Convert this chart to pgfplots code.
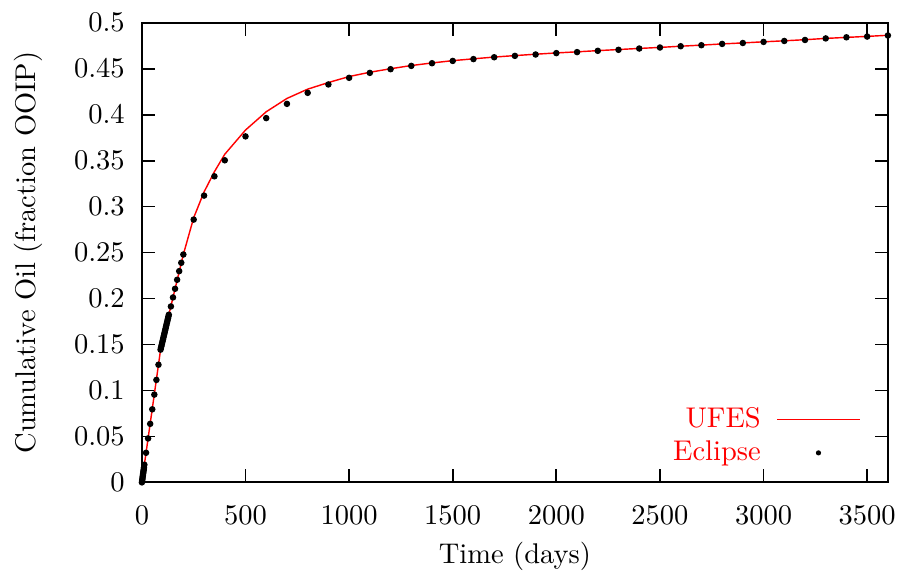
\documentclass[border=0pt]{standalone}
\usepackage{pgfplots}
\pgfplotsset{compat=1.18}

% UFES simulator curve
\pgfplotstableread{
t f
0 0.0
10 0.0165
20 0.0322
50 0.0800
80 0.1280
90 0.1444
130 0.1824
200 0.2479
250 0.2880
300 0.3160
350 0.3380
400 0.3570
500 0.3833
600 0.4032
700 0.4177
800 0.4278
900 0.4350
1000 0.4415
1100 0.4462
1200 0.4500
1300 0.4535
1400 0.4563
1500 0.4588
1600 0.4608
1700 0.4627
1800 0.4643
1900 0.4658
2000 0.4672
2100 0.4684
2200 0.4697
2300 0.4709
2400 0.4721
2500 0.4732
2600 0.4745
2700 0.4757
2800 0.4770
2900 0.4781
3000 0.4793
3100 0.4804
3200 0.4816
3300 0.4830
3400 0.4841
3500 0.4852
3600 0.4864
}\ufes

% Eclipse reference points
\pgfplotstableread{
t f
0 0.0
1 0.0016
2 0.0032
3 0.0048
4 0.0064
5 0.0080
6 0.0096
7 0.0112
8 0.0128
9 0.0144
10 0.0160
12 0.0192
20 0.0322
30 0.0478
40 0.0637
50 0.0795
60 0.0955
70 0.1115
80 0.1280
90 0.1444
92 0.1463
94 0.1482
96 0.1501
98 0.1520
100 0.1539
102 0.1558
104 0.1577
106 0.1596
108 0.1615
110 0.1634
112 0.1653
114 0.1672
116 0.1691
118 0.1710
120 0.1729
122 0.1748
124 0.1767
126 0.1786
128 0.1805
130 0.1824
140 0.1914
150 0.2012
160 0.2106
170 0.2204
180 0.2298
190 0.2389
200 0.2479
250 0.2859
300 0.3120
350 0.3330
400 0.3504
500 0.3764
600 0.3963
700 0.4118
800 0.4238
900 0.4329
1000 0.4401
1100 0.4455
1200 0.4495
1300 0.4531
1400 0.4560
1500 0.4585
1600 0.4605
1700 0.4625
1800 0.4640
1900 0.4655
2000 0.4670
2100 0.4681
2200 0.4695
2300 0.4706
2400 0.4720
2500 0.4731
2600 0.4745
2700 0.4756
2800 0.4770
2900 0.4780
3000 0.4792
3100 0.4802
3200 0.4813
3300 0.4830
3400 0.4842
3500 0.4850
3600 0.4862
}\eclipse

\begin{document}
\begin{tikzpicture}
\begin{axis}[
  scale only axis,
  width=261.8pt, height=161.3pt,
  xmin=0, xmax=3600,
  ymin=0, ymax=0.5,
  xtick={0,500,...,3500},
  ytick={0,0.05,...,0.51},
  scaled ticks=false,
  xticklabel style={/pgf/number format/1000 sep={}, anchor=north, inner ysep=7.96pt},
  yticklabel style={/pgf/number format/fixed, /pgf/number format/precision=2, xshift=-2.5pt},
  tick align=inside,
  major tick length=4.6pt,
  axis line style={line width=0.7pt},
  every tick/.style={black, line width=0.6pt},
  xlabel={Time (days)},
  ylabel={Cumulative Oil (fraction OOIP)},
  xlabel style={at={(axis description cs:0.5,0)}, anchor=base, yshift=-28.4pt},
  ylabel style={at={(axis description cs:-0.120,0.5)}, anchor=south},
  legend plot pos=right,
  legend cell align=right,
  legend style={draw=none, fill=none, text=red,
    at={(rel axis cs:0.9757,0.012)}, anchor=south east,
    row sep=-0.75pt},
]
\addplot[red, line width=0.5pt,
  legend image code/.code={\path (0pt,0pt); \draw[red, line width=0.6pt] (3.5pt,0pt) -- (32.5pt,0pt);}]
  table[x=t, y=f] {\ufes};
\addlegendentry{UFES}
\addplot[only marks, mark=*, mark size=0.93pt, black,
  legend image code/.code={\path (0pt,0pt) (32.5pt,0pt); \fill[black] (18pt,0pt) circle (0.7pt);}]
  table[x=t, y=f] {\eclipse};
\addlegendentry{Eclipse}
\end{axis}
\pgfresetboundingbox
\path[use as bounding box] ([xshift=-49.8pt,yshift=-31.6pt]current axis.south west)
  rectangle ([xshift=3.2pt,yshift=8pt]current axis.north east);
\end{tikzpicture}
\end{document}
